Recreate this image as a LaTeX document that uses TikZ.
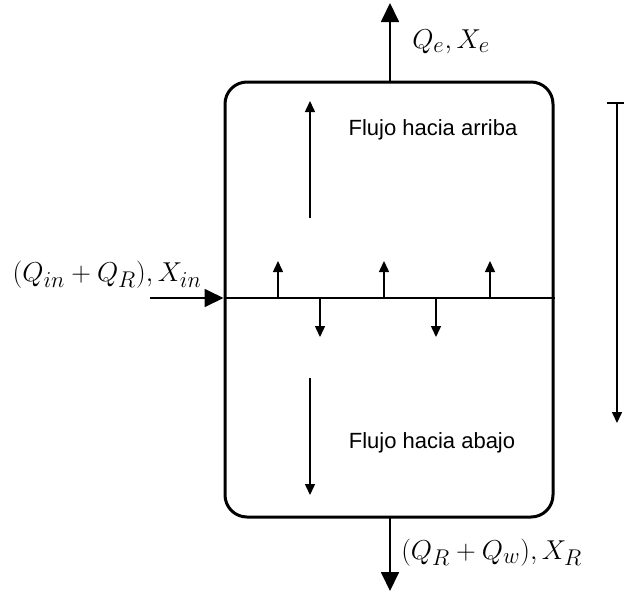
\documentclass[tikz,border=0pt]{standalone}
\usepackage{fontspec}
\newfontfamily\arialfont{Liberation Sans}
\usetikzlibrary{arrows.meta}
\begin{document}
\begin{tikzpicture}[x=1pt,y=-1pt,
  bigarr/.style={line width=1.8pt,-{Triangle[length=19pt,width=18pt]}},
  smallarr/.style={line width=1.5pt,-{Triangle[length=11pt,width=10pt]}},
  midarr/.style={line width=1.5pt,-{Triangle[length=11pt,width=10pt]}},
  lbl/.style={font=\fontsize{19}{22}\selectfont,inner sep=0pt,scale=1.58},
  txt/.style={font=\arialfont\fontsize{22}{26}\selectfont,inner sep=0pt}]
\useasboundingbox (0,0) rectangle (624,590);
\node[draw,line width=3pt,rounded corners=22pt,minimum width=328pt,minimum height=435pt,inner sep=0pt] (box) at (389,299.5) {};
% top outlet
\coordinate (top) at (390,3);
\draw[bigarr] (390,82) -- (top);
\node[lbl,anchor=west] (qe) at (412,42) {$Q_e, X_e$};
% bottom outlet
\coordinate (bot) at (390,591);
\draw[bigarr] (390,517) -- (bot);
\node[lbl,anchor=west] (qr) at (401,553) {$(Q_R + Q_w), X_R$};
% inlet
\coordinate (inl) at (150,298);
\draw[bigarr] (inl) -- (box.west |- 0,298);
\node[lbl,anchor=east] (qin) at (202,275) {$(Q_{in} + Q_R), X_{in}$};
% feed line
\draw[line width=1.6pt] (box.west |- 0,298) -- (box.east |- 0,298);
% small arrows
\foreach \x in {278,384,490} \draw[smallarr] (\x,298) -- (\x,261);
\foreach \x in {320,436} \draw[smallarr] (\x,298) -- (\x,337);
% big flow arrows
\draw[midarr] (310,218) -- (310,101);
\draw[midarr] (310,378) -- (310,495);
\node[txt] (up) at (433,130) {Flujo hacia arriba};
\node[txt] (down) at (432,443) {Flujo hacia abajo};
% right arrow
\draw[line width=1.6pt] (607,103) -- (626,103);
\draw[midarr] (617,103) -- (617,423);
\end{tikzpicture}
\end{document}
